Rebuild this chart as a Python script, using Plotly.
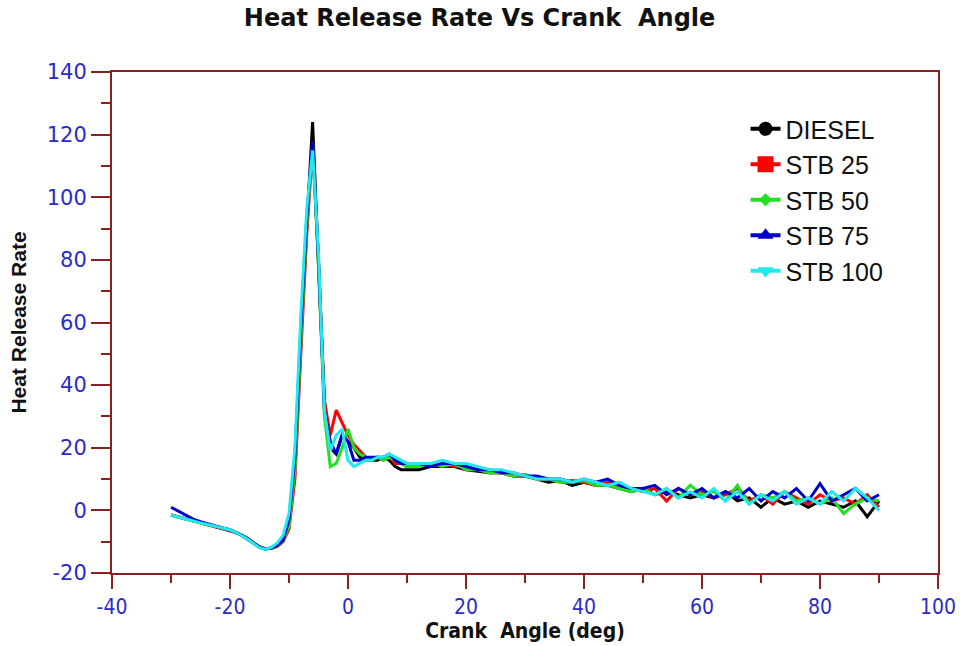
import plotly.graph_objects as go

# Crank angle (deg)
crank_angle = [-30, -29, -28, -27, -26, -25, -24, -23, -22, -21, -20, -19, -18, -17, -16,
               -15, -14, -13, -12, -11, -10, -9, -8, -7, -6, -5, -4, -3, -2, -1,
               0, 1, 2, 3, 4, 5, 6, 7, 8, 9, 10,
               12, 14, 16, 18, 20, 22, 24, 26, 28, 30, 32, 34, 36, 38, 40,
               42, 44, 46, 48, 50, 52, 54, 56, 58, 60, 62, 64, 66, 68, 70,
               72, 74, 76, 78, 80, 82, 84, 86, 88, 90]

diesel = [-1.5, -2, -2.5, -3, -3.5, -4, -4.5, -5, -5.3, -5.8, -6.3, -7, -8, -9.2, -10.5,
          -11.8, -12.3, -12, -11.2, -9.5, -4, 15, 56, 92, 124, 78, 35, 20, 18, 24,
          22, 20, 17, 16, 16, 16, 17, 16, 14, 13, 13,
          13, 14, 14, 14, 13, 12.5, 12, 12, 11, 11, 10, 9, 9.5, 8, 9,
          8, 8, 7, 6, 7, 5, 6, 5, 4, 5, 4, 6, 3, 4, 1,
          4, 2, 3, 1, 3, 2, 1, 3, -2, 3]

stb25 = [-1.5, -2, -2.6, -3, -3.4, -4, -4.5, -4.9, -5.4, -5.8, -6.4, -7.2, -8, -9, -10.3,
         -11.6, -12.2, -12.2, -11.5, -10, -6, 10, 50, 88, 116, 80, 35, 24, 32, 28,
         24, 21, 19, 17, 16, 17, 16, 17, 15, 15, 14,
         15, 14, 15, 14, 14, 13, 12, 12, 11, 11, 10, 10, 9, 9.5, 9,
         8, 9, 7, 7, 6, 7, 3, 7, 5, 6, 4, 5, 7, 3, 5,
         2, 6, 4, 2, 5, 3, 4, 2, 5, 1]

stb50 = [-1.6, -2.1, -2.4, -3.1, -3.5, -3.9, -4.4, -5, -5.2, -5.9, -6.2, -7, -7.9, -9.1, -10.4,
         -11.7, -12.3, -12.1, -11.3, -9.8, -5, 13, 54, 91, 117, 78, 30, 14, 15, 20,
         26, 20, 18, 17, 16, 17, 16, 17, 16, 15, 14,
         14, 15, 14, 15, 13, 13, 12, 12, 11, 11.5, 10, 10, 9, 9, 9.5,
         8, 8, 7, 6, 7, 5, 7, 4, 8, 5, 6, 3, 8, 2, 5,
         4, 6, 3, 4, 2, 4, -1, 2, 4, 3]

stb75 = [1, 0, -1, -2, -3, -3.6, -4.2, -4.8, -5.2, -5.7, -6.2, -7, -8, -9, -10.4,
         -11.7, -12.3, -12, -11.2, -9.5, -3, 17, 58, 93, 118, 80, 32, 22, 18, 24,
         22, 16, 16, 17, 17, 17, 17, 18, 16, 15, 15,
         15, 14, 15, 15, 14, 13, 13, 12, 12, 11, 11, 10, 10, 9, 10,
         9, 10, 8, 7, 7, 8, 5, 7, 5, 7, 4, 6, 4, 7, 3,
         6, 4, 7, 3, 8.5, 3, 5, 7, 3, 5]

stb100 = [-1.5, -2.1, -2.5, -3, -3.6, -4, -4.4, -4.9, -5.3, -5.8, -6.2, -7, -8, -9.2, -10.6,
          -11.9, -12.4, -11.8, -10.5, -8, -1, 20, 62, 96, 115, 82, 32, 19, 24, 26,
          16, 14, 15, 16, 16, 17, 17, 18, 17, 16, 15,
          15, 15, 16, 15, 15, 14, 13, 13, 12, 11, 10, 10, 10, 9, 10,
          9, 8, 9, 7, 6, 5, 7, 4, 6, 4, 7, 3, 6, 2, 5,
          3, 6, 2, 4, 2, 6, 3, 7, 4, 0]

x_ticks = [-40, -20, 0, 20, 40, 60, 80, 100]
x_tick_labels = ["-40", "-20", "0", "20", "40", "60", "80", "100"]
y_ticks = [-20, 0, 20, 40, 60, 80, 100, 120, 140]
y_tick_labels = ["-20", "0", "20", "40", "60", "80", "100", "120", "140"]

names = ["DIESEL", "STB 25", "STB 50", "STB 75", "STB 100"]
series = [diesel, stb25, stb50, stb75, stb100]
colors = ["#000000", "#FF0000", "#22E022", "#0000CC", "#22E8F0"]
symbols = ["circle", "square", "diamond", "triangle-up", "triangle-down"]
msizes = [14, 16, 10, 14, 14]

fig = go.Figure()
for name, ys, c in zip(names, series, colors):
    fig.add_trace(go.Scatter(x=crank_angle, y=ys, mode="lines", name=name,
                             line=dict(color=c, width=3), showlegend=False))
for i, (name, c, s, ms) in enumerate(zip(names, colors, symbols, msizes)):
    fig.add_trace(go.Scatter(x=[None], y=[None], mode="lines+markers", name=name,
                             legendgroup=f"g{i}",
                             line=dict(color=c, width=4),
                             marker=dict(color=c, symbol=s, size=ms)))

axis_color = "#8B2020"
tick_blue = "#2B2BC8"

fig.update_layout(
    width=965, height=646,
    paper_bgcolor="white", plot_bgcolor="white",
    margin=dict(l=112, r=27, t=72, b=73),
    title=dict(text="<b>Heat Release Rate Vs Crank  Angle</b>", x=0.497, xanchor="center",
               y=0.985, yanchor="top",
               font=dict(family="DejaVu Sans, Liberation Sans", size=24, color="#111111")),
    legend=dict(x=0.767, y=0.932, xanchor="left", yanchor="top",
                font=dict(family="Liberation Sans, Arial", size=25, color="#111111"),
                bgcolor="rgba(0,0,0,0)", tracegroupgap=0),
    font=dict(family="DejaVu Sans"),
)

fig.update_xaxes(
    range=[-40, 100], tickmode="array", tickvals=x_ticks, ticktext=x_tick_labels,
    showgrid=False, zeroline=False, automargin=False,
    showline=True, linecolor=axis_color, linewidth=2, mirror=True,
    ticks="outside", ticklen=14, tickwidth=2, tickcolor=axis_color,
    minor=dict(dtick=10, tick0=-40, ticks="outside", ticklen=8, tickwidth=2, tickcolor=axis_color),
    tickfont=dict(family="DejaVu Sans Condensed, DejaVu Sans", size=21, color=tick_blue),
    title=dict(text="<b>Crank  Angle (deg)</b>", standoff=4,
               font=dict(family="DejaVu Sans Condensed, DejaVu Sans", size=21, color="#111111")),
)
fig.update_yaxes(
    range=[-20, 140], tickmode="array", tickvals=y_ticks, ticktext=y_tick_labels,
    showgrid=False, zeroline=False, automargin=False,
    showline=True, linecolor=axis_color, linewidth=2, mirror=True,
    ticks="outside", ticklen=19, tickwidth=2, tickcolor=axis_color,
    minor=dict(dtick=10, tick0=-20, ticks="outside", ticklen=9, tickwidth=2, tickcolor=axis_color),
    tickfont=dict(family="DejaVu Sans", size=21, color=tick_blue),
    title=dict(text="<b>Heat Release Rate</b>", standoff=14,
               font=dict(family="Liberation Sans Narrow, Liberation Sans", size=21, color="#111111")),
)

fig.write_html("out.html")
